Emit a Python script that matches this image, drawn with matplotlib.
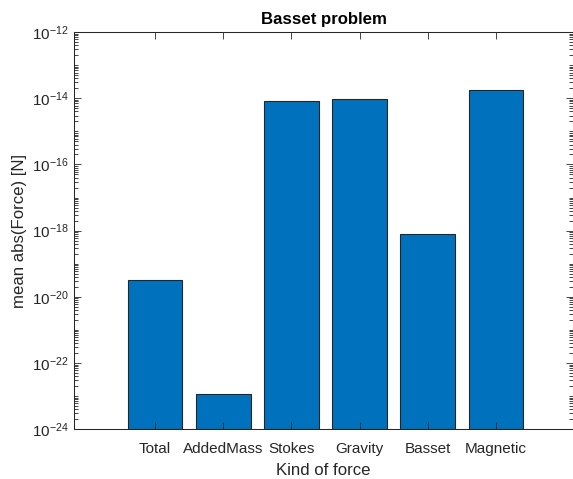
import matplotlib
matplotlib.use('Agg')
import matplotlib.pyplot as plt
import matplotlib.ticker as mticker
import numpy as np

forces = ['Total', 'AddedMass', 'Stokes', 'Gravity', 'Basset', 'Magnetic']
mean_abs = [3.2e-20, 1.02e-23, 8.45e-15, 9.3e-15, 8.1e-19, 1.78e-14]

plt.rcParams['font.family'] = ['Liberation Sans', 'DejaVu Sans']
plt.rcParams['mathtext.fontset'] = 'custom'
plt.rcParams['mathtext.rm'] = 'Liberation Sans'
plt.rcParams['mathtext.it'] = 'Liberation Sans:italic'
plt.rcParams['mathtext.bf'] = 'Liberation Sans:bold'

axcol = '#262626'
fig = plt.figure(figsize=(5.73, 4.79), dpi=100)
ax = fig.add_axes([0.129, 0.104, 0.871, 0.829])

x = np.arange(1, len(forces) + 1)
ax.bar(x, mean_abs, width=0.8, color='#0072BD', edgecolor='#262626', linewidth=0.8,
       bottom=1e-24)
ax.set_yscale('log')
ax.set_ylim(1e-24, 1e-12)
ax.set_xlim(1 - 81 / 68, len(forces) + 77 / 68)

ax.set_xticks(x)
ax.set_xticklabels(forces)
ax.yaxis.set_major_locator(mticker.FixedLocator([10.0 ** e for e in range(-24, -11, 2)]))
ax.yaxis.set_minor_locator(mticker.LogLocator(base=10, subs=np.arange(1, 10), numticks=100))
ax.yaxis.set_minor_formatter(mticker.NullFormatter())

ax.tick_params(axis='both', which='both', direction='in', top=True, right=True,
               colors=axcol, labelcolor=axcol, labelsize=11, width=0.6)
ax.tick_params(axis='both', which='major', length=5)
ax.tick_params(axis='x', which='major', pad=9)
ax.tick_params(axis='y', which='minor', length=3)
for s in ax.spines.values():
    s.set_color(axcol)
    s.set_linewidth(0.75)

ax.set_xlabel('Kind of force', fontsize=12.1, color=axcol, labelpad=5)
ax.set_ylabel('mean abs(Force) [N]', fontsize=12.1, color=axcol)
ax.set_title('Basset problem', fontsize=12.1, fontweight='bold', color='black', pad=6)

fig.savefig('out.png', dpi=100)
